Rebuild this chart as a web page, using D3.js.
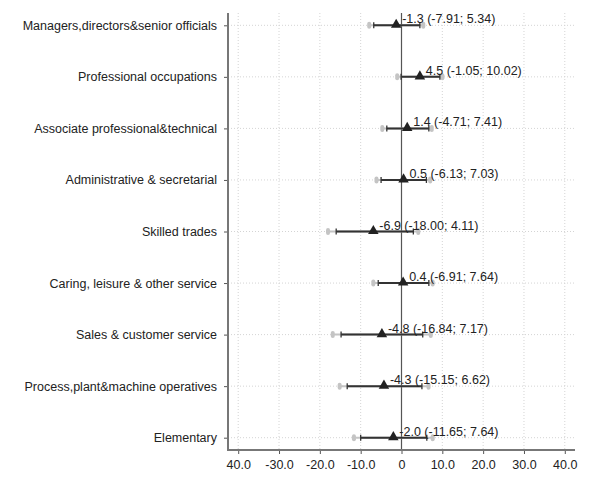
<!DOCTYPE html>
<html>
<head>
<meta charset="utf-8">
<script src="https://cdn.jsdelivr.net/npm/d3@7"></script>
<style>
  body { margin: 0; background: #fff; }
  text { font-family: "Liberation Sans", Arial, sans-serif; }
</style>
</head>
<body>
<div id="chart"></div>
<script>
var categories = ["Managers,directors&senior officials", "Professional occupations",
                  "Associate professional&technical", "Administrative & secretarial",
                  "Skilled trades", "Caring, leisure & other service",
                  "Sales & customer service", "Process,plant&machine operatives", "Elementary"];

// point estimate
var estimate = [-1.3, 4.5, 1.4, 0.5, -6.9, 0.4, -4.8, -4.3, -2.0];
// wide (grey) interval, the one written in the labels
var ciLow  = [-7.91, -1.05, -4.71, -6.13, -18.00, -6.91, -16.84, -15.15, -11.65];
var ciHigh = [5.34, 10.02, 7.41, 7.03, 4.11, 7.64, 7.17, 6.62, 7.64];
// narrow (dark) interval
var innerLow  = [-6.8, -0.1, -3.6, -5.0, -16.0, -5.7, -14.8, -13.3, -10.0];
var innerHigh = [4.5, 9.4, 6.7, 6.1, 2.9, 6.7, 5.2, 5.0, 6.2];

var xTicks = [-40, -30, -20, -10, 0, 10, 20, 30, 40];
var xTickLabels = ["40.0", "-30.0", "-20.0", "-10.0", "0", "10.0", "20.0", "30.0", "40.0"];

var width = 595, height = 477;
var plotLeft = 228, plotRight = 575, plotTop = 13, plotBottom = 450;
var fontSize = "12.5px";

var svg = d3.select("#chart").append("svg")
    .attr("width", width)
    .attr("height", height);

var x = d3.scaleLinear().domain([-42.5, 42.5]).range([plotLeft, plotRight]);
var y = d3.scalePoint().domain(categories).range([25.3, 437.7]);

var rows = categories.map(function(c, i) {
  return {cat: c, est: estimate[i], lo: ciLow[i], hi: ciHigh[i], ilo: innerLow[i], ihi: innerHigh[i]};
});

// vertical grid
svg.selectAll(".vgrid")
   .data(xTicks)
   .enter().append("line")
   .attr("x1", function(d) { return x(d); })
   .attr("x2", function(d) { return x(d); })
   .attr("y1", plotTop)
   .attr("y2", plotBottom)
   .attr("stroke", "#d4d4d4")
   .attr("stroke-width", 1)
   .attr("stroke-dasharray", "1,2");

// horizontal grid
svg.selectAll(".hgrid")
   .data(categories)
   .enter().append("line")
   .attr("x1", plotLeft)
   .attr("x2", plotRight)
   .attr("y1", function(d) { return y(d); })
   .attr("y2", function(d) { return y(d); })
   .attr("stroke", "#d4d4d4")
   .attr("stroke-width", 1)
   .attr("stroke-dasharray", "1,2");

// zero line
svg.append("line")
   .attr("x1", x(0)).attr("x2", x(0))
   .attr("y1", plotTop).attr("y2", plotBottom)
   .attr("stroke", "#555")
   .attr("stroke-width", 1.2);

// y axis
var yAxis = svg.append("g")
   .attr("transform", "translate(" + plotLeft + ",0)")
   .call(d3.axisLeft(y).tickSize(4).tickPadding(7));
yAxis.select(".domain").remove();
yAxis.selectAll(".tick line").attr("stroke", "#555");
yAxis.selectAll(".tick text")
   .attr("fill", "#222")
   .style("font-size", fontSize)
   .style("font-family", "'Liberation Sans', Arial, sans-serif");
svg.append("line")
   .attr("x1", plotLeft).attr("x2", plotLeft)
   .attr("y1", plotTop).attr("y2", plotBottom + 1)
   .attr("stroke", "#777")
   .attr("stroke-width", 2);

// x axis
var xAxis = svg.append("g")
   .attr("transform", "translate(0," + plotBottom + ")")
   .call(d3.axisBottom(x).tickValues(xTicks)
          .tickFormat(function(d, i) { return xTickLabels[i]; })
          .tickSize(4).tickPadding(6));
xAxis.select(".domain").remove();
xAxis.selectAll(".tick line").attr("stroke", "#555");
xAxis.selectAll(".tick text")
   .attr("fill", "#222")
   .style("font-size", fontSize)
   .style("font-family", "'Liberation Sans', Arial, sans-serif");
svg.append("line")
   .attr("x1", plotLeft - 1).attr("x2", plotRight)
   .attr("y1", plotBottom).attr("y2", plotBottom)
   .attr("stroke", "#777")
   .attr("stroke-width", 2);

// grey interval: line and round end caps
svg.selectAll(".ci")
   .data(rows)
   .enter().append("line")
   .attr("x1", function(d) { return x(d.lo); })
   .attr("x2", function(d) { return x(d.hi); })
   .attr("y1", function(d) { return y(d.cat); })
   .attr("y2", function(d) { return y(d.cat); })
   .attr("stroke", "#c4c4c4")
   .attr("stroke-width", 2);

var capData = [];
rows.forEach(function(d) { capData.push({v: d.lo, cat: d.cat}); capData.push({v: d.hi, cat: d.cat}); });
svg.selectAll(".cap")
   .data(capData)
   .enter().append("line")
   .attr("x1", function(d) { return x(d.v); })
   .attr("x2", function(d) { return x(d.v); })
   .attr("y1", function(d) { return y(d.cat) - 1.5; })
   .attr("y2", function(d) { return y(d.cat) + 1.5; })
   .attr("stroke", "#c4c4c4")
   .attr("stroke-width", 4)
   .attr("stroke-linecap", "round");

// dark interval
svg.selectAll(".inner")
   .data(rows)
   .enter().append("line")
   .attr("x1", function(d) { return x(d.ilo); })
   .attr("x2", function(d) { return x(d.ihi); })
   .attr("y1", function(d) { return y(d.cat); })
   .attr("y2", function(d) { return y(d.cat); })
   .attr("stroke", "#333")
   .attr("stroke-width", 2);

var tickData = [];
rows.forEach(function(d) { tickData.push({v: d.ilo, cat: d.cat}); tickData.push({v: d.ihi, cat: d.cat}); });
svg.selectAll(".itick")
   .data(tickData)
   .enter().append("line")
   .attr("x1", function(d) { return x(d.v); })
   .attr("x2", function(d) { return x(d.v); })
   .attr("y1", function(d) { return y(d.cat) - 3; })
   .attr("y2", function(d) { return y(d.cat) + 3; })
   .attr("stroke", "#333")
   .attr("stroke-width", 1.3);

// triangles
var tri = d3.symbol().type(d3.symbolTriangle).size(48);
svg.selectAll(".pt")
   .data(rows)
   .enter().append("path")
   .attr("d", tri)
   .attr("transform", function(d) { return "translate(" + x(d.est) + "," + (y(d.cat) - 0.5) + ")"; })
   .attr("fill", "#222");

// labels
svg.selectAll(".lbl")
   .data(rows)
   .enter().append("text")
   .attr("x", function(d) { return x(d.est) + 6; })
   .attr("y", function(d) { return y(d.cat) - 2; })
   .attr("fill", "#222")
   .style("font-size", fontSize)
   .text(function(d) {
      return d.est.toFixed(1) + " (" + d.lo.toFixed(2) + "; " + d.hi.toFixed(2) + ")";
   });
</script>
</body>
</html>
